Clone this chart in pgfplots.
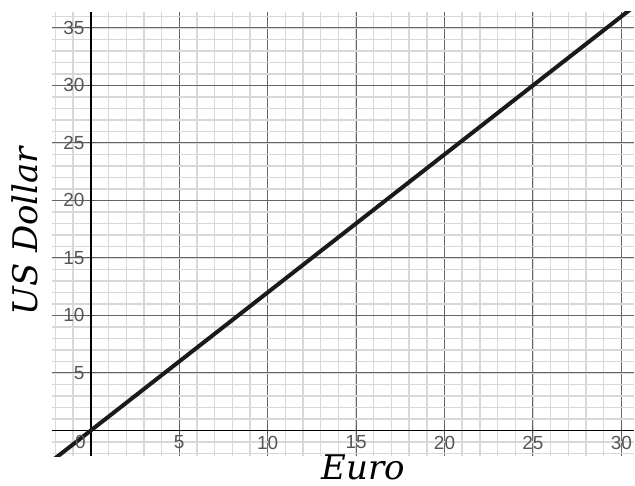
\documentclass[border=0pt]{standalone}
\usepackage{fontspec}
\setmainfont{Liberation Sans}
\newfontfamily\labelfont{DejaVu Serif}
\usepackage{pgfplots}
\pgfplotsset{compat=1.18}
\definecolor{minorgrid}{HTML}{D8D8D8}
\definecolor{majorgrid}{HTML}{666666}
\definecolor{ticklab}{HTML}{555555}
\definecolor{linecol}{HTML}{1A1A1A}
\begin{document}
\begin{tikzpicture}
\begin{axis}[
  scale only axis, width=291.5pt, height=222.5pt,
  xmin=-2.2, xmax=30.73, ymin=-2.26, ymax=36.39,
  axis lines=middle,
  axis line style={black, line width=0.75pt, -},
  xtick={5,10,...,30}, ytick={5,10,...,35},
  minor xtick={-2,-1,...,30}, minor ytick={-2,-1,...,36},
  grid=both,
  major grid style={majorgrid, line width=0.5pt},
  minor grid style={minorgrid, line width=0.7pt},
  tick style={ticklab, line width=0.5pt},
  major tick length=4pt, minor tick length=0pt,
  tick align=center,
  /pgf/number format/assume math mode=true,
  ticklabel style={font=\fontsize{9.5}{10}\selectfont, text=ticklab},
  xticklabel style={anchor=north, yshift=0.5pt, inner sep=1pt},
  yticklabel style={anchor=east, xshift=0.5pt, inner sep=1.5pt},
  xlabel={\labelfont\itshape Euro},
  ylabel={\labelfont\itshape US Dollar},
  xlabel style={at={(rel axis cs:0.535,0)}, anchor=north, inner sep=0pt,
    yshift=1pt, font=\fontsize{17}{18}\selectfont},
  ylabel style={at={(rel axis cs:0,0.507)}, anchor=center, rotate=90,
    yshift=13.5pt, inner sep=0pt, font=\fontsize{17}{18}\selectfont},
  clip=true,
]
\addplot[linecol, line width=2pt] coordinates {(-3,-3.6) (31,37.2)};
\node[anchor=north east, inner sep=1pt, text=ticklab,
  font=\fontsize{9.5}{10}\selectfont] at (axis cs:-0.15,-0.25) {0};
\end{axis}
\path (current axis.south west) ++(-26pt,-14.5pt) coordinate (bbsw);
\path (current axis.north east) ++(0pt,6pt) coordinate (bbne);
\useasboundingbox (bbsw) rectangle (bbne);
\end{tikzpicture}
\end{document}
